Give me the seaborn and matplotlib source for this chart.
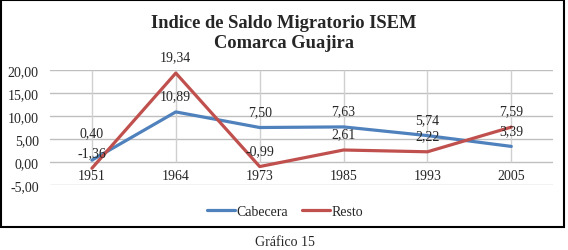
import matplotlib
matplotlib.use("Agg")
import matplotlib.pyplot as plt
import matplotlib.patches as mpatches
import pandas as pd
import seaborn as sns

years = ["1951", "1964", "1973", "1985", "1993", "2005"]
cabecera = [0.40, 10.89, 7.50, 7.63, 5.74, 3.39]
resto = [-1.36, 19.34, -0.99, 2.61, 2.22, 7.59]
series_names = ["Cabecera", "Resto"]
colors = ["#4F81BD", "#C0504D"]
yticks = [-5, 0, 5, 10, 15, 20]


def fmt(v):
    return "{:.2f}".format(v).replace(".", ",")


df = pd.DataFrame({
    "year": years * 2,
    "value": cabecera + resto,
    "serie": [series_names[0]] * len(years) + [series_names[1]] * len(years),
})

sns.set_style("white")
plt.rcParams["font.family"] = ["Liberation Serif", "DejaVu Serif"]
fs = 10

fig = plt.figure(figsize=(5.68, 2.51), dpi=100)
ax = fig.add_axes([0.088, 0.259, 0.886, 0.458])

# grid first so the lines sit on top
for t in yticks:
    ax.axhline(t, color="#BFBFBF", linewidth=1, zorder=0)
ax.vlines(range(len(years)), 0, 20, color="#D0D0D0", linewidth=1, zorder=0)

sns.lineplot(data=df, x="year", y="value", hue="serie", palette=colors,
             linewidth=2.3, sort=False, ax=ax, legend=False, zorder=3)

ax.set_xlim(-0.5, len(years) - 0.5)
ax.set_ylim(-5, 20)
ax.set_yticks(yticks)
ax.set_yticklabels([fmt(t) for t in yticks], fontsize=fs)
ax.tick_params(axis="y", length=0, pad=8)
ax.set_xticks([])
ax.set_xlabel("")
ax.set_ylabel("")
for s in ax.spines.values():
    s.set_visible(False)

# year labels sit just under the zero line
for i, y in enumerate(years):
    ax.annotate(y, (i, 0), xytext=(0, -10), textcoords="offset points",
                ha="center", va="center", fontsize=fs)

# data labels
for vals in (cabecera, resto):
    for i, v in enumerate(vals):
        off = 11.5
        if vals is cabecera and i == 0:
            off = 20
        ax.annotate(fmt(v), (i, v), xytext=(0, off), textcoords="offset points",
                    ha="center", va="center", fontsize=fs)

fig.text(0.5, 0.908, "Indice de Saldo Migratorio ISEM", ha="center", va="center",
         fontsize=13.3, fontweight="bold")
fig.text(0.5, 0.826, "Comarca Guajira", ha="center", va="center",
         fontsize=13.3, fontweight="bold")

handles = [plt.Line2D([], [], color=c, linewidth=2.3) for c in colors]
fig.legend(handles, series_names, loc="center", bbox_to_anchor=(0.502, 0.155),
           ncol=2, frameon=False, fontsize=fs, handlelength=2.0,
           handletextpad=0.1, columnspacing=1.0)

fig.text(0.502, 0.032, "Gráfico 15", ha="center", va="center", fontsize=fs)

fig.patches.append(mpatches.Rectangle((0.002, 0.092), 0.991, 0.904, transform=fig.transFigure,
                                      fill=False, edgecolor="black", linewidth=1.5))

fig.savefig("out.png", dpi=100)
